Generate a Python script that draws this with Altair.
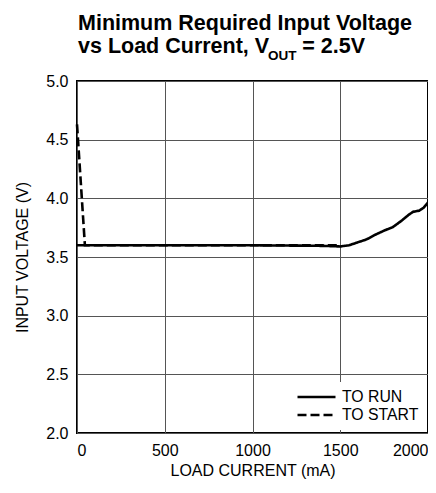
import altair as alt
import pandas as pd

# ---- data ----
run_current = [0, 500, 1000, 1400, 1500, 1550, 1600, 1650, 1700, 1750, 1800, 1850, 1890, 1915, 1950, 1975, 2000]
run_voltage = [3.60, 3.60, 3.60, 3.595, 3.59, 3.60, 3.625, 3.65, 3.69, 3.725, 3.755, 3.81, 3.86, 3.885, 3.895, 3.92, 3.965]
start_current = [0, 45, 500, 1000, 1500]
start_voltage = [4.63, 3.60, 3.60, 3.60, 3.60]

series_names = ["TO RUN", "TO START"]
x_ticks = [0, 500, 1000, 1500, 2000]
y_ticks = [2.0, 2.5, 3.0, 3.5, 4.0, 4.5, 5.0]

title_line1 = "Minimum Required Input Voltage"
title_line2a = "vs Load Current, V"
title_sub = "OUT"
title_line2b = "= 2.5V"

FONT = "Liberation Sans"

df = pd.concat([
    pd.DataFrame({"current": start_current, "voltage": start_voltage, "series": series_names[1], "order": range(len(start_current))}),
    pd.DataFrame({"current": run_current, "voltage": run_voltage, "series": series_names[0], "order": range(len(run_current))}),
])

W, H = 351, 352

lines = alt.Chart(df).mark_line(strokeWidth=2.6, color="black", strokeCap="butt").encode(
    x=alt.X("current:Q", scale=alt.Scale(domain=[0, 2000], nice=False),
            axis=alt.Axis(values=x_ticks, title="LOAD CURRENT (mA)", format="d", labelFlush=True)),
    y=alt.Y("voltage:Q", scale=alt.Scale(domain=[2, 5], nice=False),
            axis=alt.Axis(values=y_ticks, title="INPUT VOLTAGE (V)", format=".1f")),
    strokeDash=alt.StrokeDash("series:N",
        scale=alt.Scale(domain=series_names, range=[[1, 0], [9, 4]]),
        legend=alt.Legend(title=None, orient="bottom-right")),
    order="order:Q",
)

title_df = pd.DataFrame({"t": [0]})
def txt(text, x, y, size, align="left"):
    return alt.Chart(title_df).mark_text(text=text, font=FONT, fontWeight="bold", fontSize=size,
                                         align=align, baseline="alphabetic", color="black").encode(
        x=alt.value(x), y=alt.value(y))

t1 = txt(title_line1, 1, -51, 21.5)
t2 = txt(title_line2a, 1, -28, 21.5)
t3 = txt(title_sub, 191, -21, 13.5)
t4 = txt(title_line2b, 288, -28, 21.5, align="right")

chart = alt.layer(lines, t1, t2, t3, t4).properties(
    width=W, height=H,
    autosize=alt.AutoSizeParams(type="none"),
    padding={"left": 69, "top": 73, "right": 0, "bottom": 46},
).configure_view(
    stroke="black", strokeWidth=2
).configure_axis(
    labelFont=FONT, titleFont=FONT, labelFontSize=16, titleFontSize=16,
    labelColor="black", titleColor="black", titleFontWeight="normal",
    grid=True, gridColor="#555555", gridWidth=1, domain=False, ticks=False,
    labelPadding=9,
).configure_axisX(titlePadding=4).configure_axisY(titlePadding=15).configure_legend(
    fillColor="white", labelFont=FONT, labelFontSize=15.8, labelColor="black",
    symbolType="stroke", symbolSize=1444, symbolStrokeWidth=2.6, symbolStrokeColor="black",
    padding=6, offset=3, rowPadding=0, clipHeight=18, labelOffset=5,
)

chart.save("out.html", embed_options={"renderer": "svg", "actions": False})
